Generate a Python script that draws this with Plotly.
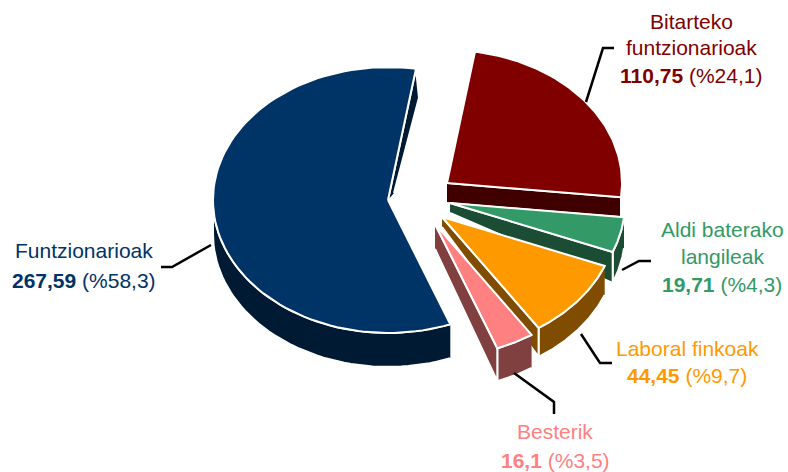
import numpy as np
import plotly.graph_objects as go

# ---- data (clockwise order, starting at the top)
categories = [["Bitarteko", "funtzionarioak"], ["Aldi baterako", "langileak"],
              ["Laboral finkoak"], ["Besterik"], ["Funtzionarioak"]]
values = [110.75, 19.71, 44.45, 16.1, 267.59]
percents = [24.1, 4.3, 9.7, 3.5, 58.3]

# ---- style
top_colors = ["#800000", "#339966", "#FF9900", "#FF8080", "#003366"]
wall_colors = ["#400000", "#1A4D33", "#804D00", "#804040", "#001A33"]
apex = [(447, 183), (450, 203), (442, 217), (435, 224), (388, 200)]
rim_depth = [20, 31, 29, 33, 34]
apex_depth = [20, 10, 10, 25, 34]
wall_edge = ["end", "end", "end", "end", None]
RX, RY = 175, 133
ROT = 9.2
FONT = "Liberation Sans"
SIZE = 21

label_pos = [(691, [21, 47, 75]), (722, [229, 256, 284]), (687, [348, 375]),
             (555, [431, 460]), (84, [250, 280])]
leaders = [[(586, 102), (603, 48), (614, 48)],
           [(622, 270), (639, 261), (651, 261)],
           [(581, 334), (600, 363), (612, 363)],
           [(514, 373), (554, 402), (554, 414)],
           [(161, 267), (172, 267), (211, 245)]]

fig = go.Figure()


def poly(xs, ys, color):
    fig.add_trace(go.Scatter(x=xs, y=ys, mode="lines", fill="toself", fillcolor=color,
                             line=dict(color="white", width=2), hoverinfo="skip", showlegend=False))


total = sum(values)
cum = ROT
spans = []
for v in values:
    spans.append((cum, cum + v / total * 360))
    cum = spans[-1][1]


def rim(phi, cx, cy, dy=0.0):
    r = np.radians(phi)
    return cx + RX * np.sin(r), cy - RY * np.cos(r) + dy


order = [4, 0, 1, 2, 3]
for i in order:
    a0, a1 = spans[i]
    cx, cy = apex[i]
    phi = np.linspace(a0, a1, 90)
    # outer wall: only the part of the rim facing the viewer
    front = phi[(phi >= 88) & (phi <= 272)]
    if len(front) > 1:
        tx, ty = rim(front, cx, cy)
        bx, by = rim(front, cx, cy, rim_depth[i])
        poly(list(tx) + list(bx[::-1]), list(ty) + list(by[::-1]), wall_colors[i])
    # start-edge strip of the large slice, seen at its upper right
    ex, ey = rim(a1, cx, cy)
    if wall_edge[i] is None:
        poly([cx, ex, ex + 3, cx + 6], [cy, ey, ey + 29, cy - 7], wall_colors[i])
    else:
        poly([cx, ex, ex, cx], [cy, ey, ey + rim_depth[i], cy + apex_depth[i]], wall_colors[i])
    tx, ty = rim(phi, cx, cy)
    poly([cx] + list(tx) + [cx], [cy] + list(ty) + [cy], top_colors[i])

shapes = []
for pts in leaders:
    path = "M " + " L ".join(f"{x},{y}" for x, y in pts)
    shapes.append(dict(type="path", path=path, xref="x", yref="y",
                       line=dict(color="black", width=2.5)))

annotations = []
for name, v, p, col, (lx, ly) in zip(categories, values, percents, top_colors, label_pos):
    lines = list(name) + [f"<b>{str(v).replace('.', ',')}</b> (%{str(p).replace('.', ',')})"]
    for t, y in zip(lines, ly):
        annotations.append(dict(x=lx, y=y, text=t, showarrow=False, xref="x", yref="y",
                                xanchor="center", yanchor="middle",
                                font=dict(family=FONT, size=SIZE, color=col)))

fig.update_layout(
    width=788, height=472, margin=dict(l=0, r=0, t=0, b=0),
    paper_bgcolor="white", plot_bgcolor="white", showlegend=False,
    xaxis=dict(range=[0, 788], visible=False, fixedrange=True),
    yaxis=dict(range=[472, 0], visible=False, fixedrange=True),
    shapes=shapes, annotations=annotations,
)
fig.write_html("out.html", config=dict(displayModeBar=False),
               post_script="document.body.style.margin='0';document.documentElement.style.overflow='hidden';")
